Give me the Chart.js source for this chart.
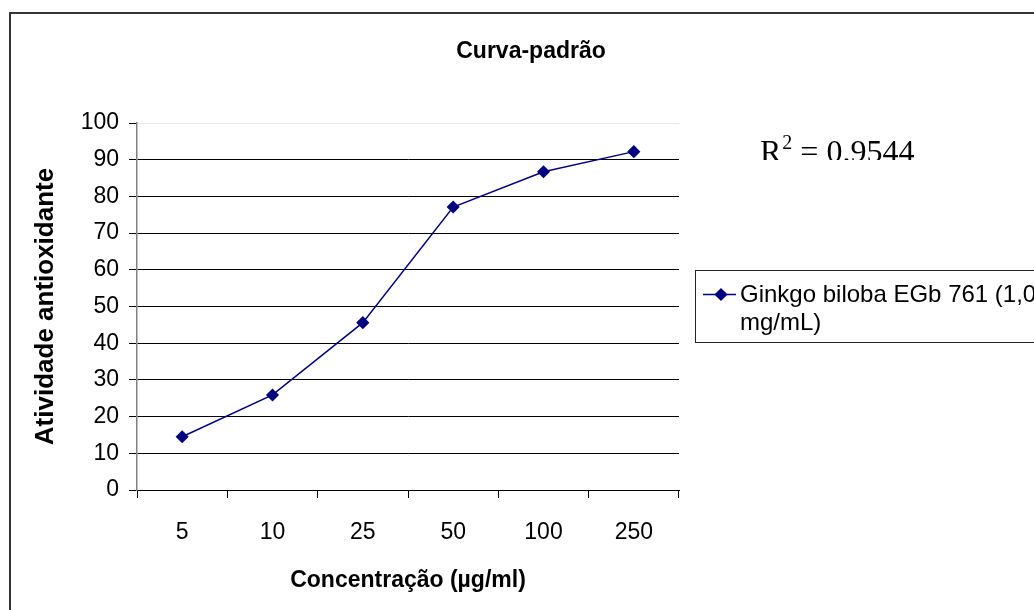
<!DOCTYPE html>
<html>
<head>
<meta charset="utf-8">
<title>Curva-padrão</title>
<script src="https://cdn.jsdelivr.net/npm/chart.js@4/dist/chart.umd.min.js"></script>
<style>
  html, body { margin: 0; padding: 0; background: #fff; }
  canvas { display: block; }
</style>
</head>
<body>
<canvas id="curva" width="1034" height="610"></canvas>
<script>
// dados da curva-padrão
const concentracoes = ['5', '10', '25', '50', '100', '250'];
const atividade = [14.5, 25.9, 45.6, 77.1, 86.7, 92.2];
const yMin = 0, yMax = 100, yPasso = 10;
const serieNome = ['Ginkgo biloba EGb 761 (1,0', 'mg/mL)'];
const tituloGrafico = 'Curva-padrão';
const valorR2 = '0.9544';

const SANS = "'Liberation Sans', Arial, sans-serif";
const SERIF = "'Liberation Serif', 'Times New Roman', serif";
const AZUL = '#000080';

// moldura, título, R² e legenda desenhados à mão
const extras = {
  id: 'extras',
  afterDraw(chart) {
    const ctx = chart.ctx;
    ctx.save();

    // moldura externa
    ctx.strokeStyle = '#333';
    ctx.lineWidth = 2;
    ctx.beginPath();
    ctx.moveTo(10, 610);
    ctx.lineTo(10, 13);
    ctx.lineTo(1034, 13);
    ctx.stroke();

    // título
    ctx.fillStyle = '#000';
    ctx.font = 'bold 23px ' + SANS;
    ctx.textAlign = 'center';
    ctx.textBaseline = 'middle';
    ctx.fillText(tituloGrafico, 531, 52);

    // R² (caixa de texto cortada embaixo)
    ctx.save();
    ctx.beginPath();
    ctx.rect(700, 120, 300, 40);
    ctx.clip();
    ctx.textAlign = 'left';
    ctx.textBaseline = 'alphabetic';
    let x = 760;
    const base = 162;
    ctx.font = '32px ' + SERIF;
    ctx.fillText('R', x, base);
    x += ctx.measureText('R').width;
    ctx.font = '20px ' + SERIF;
    ctx.fillText('2', x + 1, base - 13);
    x += ctx.measureText('2').width + 1;
    ctx.font = '32px ' + SERIF;
    ctx.fillText(' = ' + valorR2, x, base);
    ctx.restore();

    // legenda
    ctx.strokeStyle = '#222';
    ctx.lineWidth = 1;
    ctx.strokeRect(695.5, 270.5, 360, 72);
    const ds = chart.data.datasets[0];
    ctx.strokeStyle = ds.borderColor;
    ctx.lineWidth = ds.borderWidth;
    ctx.beginPath();
    ctx.moveTo(703, 294.5);
    ctx.lineTo(736, 294.5);
    ctx.stroke();
    ctx.fillStyle = ds.pointBackgroundColor;
    Chart.helpers.drawPoint(ctx, { pointStyle: 'rectRot', radius: 5.5, borderWidth: 1 }, 721, 294.5);
    ctx.fillStyle = '#000';
    ctx.font = '24px ' + SANS;
    ctx.textAlign = 'left';
    ctx.textBaseline = 'middle';
    ctx.fillText(serieNome[0], 740, 295);
    ctx.fillText(serieNome[1], 740, 323);

    ctx.restore();
  }
};

new Chart(document.getElementById('curva'), {
  type: 'line',
  data: {
    labels: concentracoes,
    datasets: [{
      label: serieNome.join(' '),
      data: atividade,
      borderColor: AZUL,
      backgroundColor: AZUL,
      pointBackgroundColor: AZUL,
      pointBorderColor: AZUL,
      borderWidth: 1.5,
      pointStyle: 'rectRot',
      pointRadius: 5.5,
      pointHoverRadius: 5.5,
      tension: 0,
      fill: false,
    }],
  },
  options: {
    responsive: false,
    animation: false,
    devicePixelRatio: 1,
    layout: { padding: { left: 0, top: 123, right: 355, bottom: 0 } },
    plugins: {
      legend: { display: false },
      title: { display: false },
      tooltip: { enabled: false },
    },
    scales: {
      x: {
        offset: true,
        afterFit(scale) { scale.height = 120; },
        grid: {
          offset: true,
          drawOnChartArea: false,
          drawTicks: true,
          tickLength: 8,
          color: '#000',
        },
        border: { display: true, color: '#000', width: 1 },
        ticks: {
          color: '#000',
          padding: 21,
          maxRotation: 0,
          font: { family: SANS, size: 23 },
        },
        title: {
          display: true,
          text: 'Concentração (µg/ml)',
          color: '#000',
          font: { family: SANS, size: 23, weight: 'bold' },
          padding: { top: 0, bottom: 16 },
        },
      },
      y: {
        min: yMin,
        max: yMax,
        afterFit(scale) { scale.width = 137; },
        grid: {
          color: (c) => (c.tick && c.tick.value === yMax ? '#e6e6e6' : '#000'),
          tickColor: '#000',
          tickLength: 8,
          lineWidth: 1,
        },
        border: { display: true, color: '#808080', width: 1.5 },
        ticks: {
          stepSize: yPasso,
          color: '#000',
          padding: 10,
          font: { family: SANS, size: 23 },
        },
        title: {
          display: true,
          text: 'Atividade antioxidante',
          color: '#000',
          font: { family: SANS, size: 26, weight: 'bold' },
          padding: { top: 30, bottom: 0 },
        },
      },
    },
  },
  plugins: [extras],
});
</script>
</body>
</html>
